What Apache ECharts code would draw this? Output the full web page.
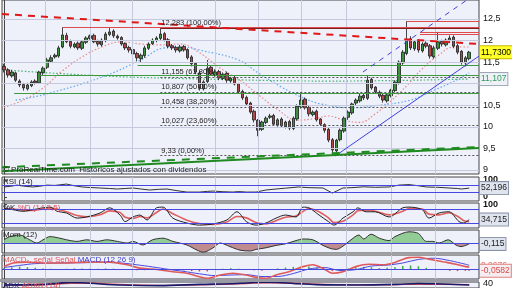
<!DOCTYPE html>
<html><head><meta charset="utf-8">
<script src="https://cdn.jsdelivr.net/npm/echarts@6/dist/echarts.min.js"></script>
<style>html,body{margin:0;padding:0;background:#fff}#c{width:512px;height:288px}</style>
</head><body><div id="c"></div>
<script>
// ---- price candles (one per session) ----
const open = [11.40,11.32,11.18,11.25,11.06,10.98,10.88,10.95,11.06,11.02,
11.25,11.38,11.52,11.62,11.64,11.85,12.12,11.98,11.85,11.94,
11.82,11.96,12.05,12.12,11.98,11.90,12.00,12.14,12.22,12.10,
12.07,11.93,11.84,11.79,11.70,11.58,11.65,11.82,11.93,12.00,
12.05,12.16,12.02,11.88,11.84,11.76,11.86,11.79,11.62,11.47,
11.25,10.88,11.05,11.38,11.20,11.28,11.12,11.24,11.06,11.14,
11.00,10.82,10.68,10.55,10.36,10.15,9.94,10.10,10.22,10.26,
10.04,10.18,10.00,10.12,9.96,10.18,10.46,10.64,10.45,10.28,
10.36,10.18,10.05,9.94,9.70,9.44,9.70,9.90,10.22,10.32,
10.55,10.60,10.73,10.66,11.10,10.92,10.80,10.73,10.60,10.72,
10.84,11.02,11.48,11.70,12.04,11.81,11.98,11.76,11.94,11.88,
11.62,11.82,11.98,11.90,12.00,12.08,11.88,11.75,11.48,11.58];
const close = [11.32,11.20,11.27,11.08,10.97,10.90,10.97,11.04,11.02,11.27,
11.36,11.55,11.60,11.66,11.83,12.13,11.97,11.87,11.92,11.83,
11.97,12.06,12.11,11.97,11.92,12.01,12.15,12.20,12.11,12.06,
11.92,11.83,11.78,11.69,11.60,11.66,11.83,11.92,12.01,12.06,
12.15,12.01,11.87,11.83,11.78,11.85,11.78,11.60,11.46,11.27,
10.90,11.04,11.36,11.22,11.27,11.13,11.22,11.08,11.13,10.99,
10.81,10.67,10.53,10.34,10.16,9.92,10.11,10.20,10.25,10.06,
10.16,10.02,10.11,9.97,10.20,10.48,10.62,10.44,10.30,10.34,
10.16,10.06,9.92,9.69,9.46,9.69,9.92,10.20,10.34,10.53,
10.62,10.71,10.67,11.08,10.90,10.81,10.71,10.62,10.74,10.85,
11.04,11.50,11.73,12.01,11.83,11.97,11.78,11.92,11.87,11.64,
11.83,11.97,11.92,12.01,12.06,11.87,11.73,11.50,11.60,11.73];
const high = [11.46,11.36,11.32,11.28,11.10,11.02,11.02,11.08,11.10,11.30,
11.40,11.60,11.66,11.70,11.88,12.31,12.18,12.02,11.96,11.98,
12.00,12.10,12.14,12.16,12.02,12.05,12.20,12.29,12.26,12.14,
12.10,11.96,11.88,11.82,11.74,11.70,11.88,11.96,12.05,12.10,
12.283,12.20,12.06,11.92,11.88,11.90,11.90,11.82,11.66,11.50,
11.30,11.08,11.55,11.42,11.32,11.32,11.26,11.28,11.16,11.18,
11.02,10.86,10.72,10.58,10.40,10.18,10.14,10.24,10.30,10.30,
10.20,10.22,10.14,10.16,10.24,10.52,10.80,10.68,10.48,10.38,
10.40,10.20,10.08,9.98,9.74,9.72,9.96,10.24,10.38,10.56,
10.66,10.76,10.78,11.20,11.14,10.94,10.84,10.76,10.78,10.88,
11.08,11.54,11.78,12.45,12.10,12.00,12.02,11.96,11.98,11.92,
11.88,12.20,12.02,12.05,12.12,12.12,11.92,11.78,11.64,11.76];
const low = [11.26,11.14,11.14,11.04,10.92,10.84,10.84,10.92,10.98,11.00,
11.20,11.34,11.48,11.58,11.60,11.82,11.94,11.82,11.82,11.78,
11.78,11.92,12.02,11.94,11.86,11.86,11.96,12.10,12.06,12.02,
11.88,11.78,11.72,11.64,11.52,11.50,11.60,11.78,11.90,11.96,
12.00,11.98,11.82,11.78,11.72,11.72,11.74,11.56,11.40,11.22,
10.84,10.84,11.00,11.18,11.16,11.08,11.08,11.02,11.02,10.96,
10.76,10.62,10.48,10.30,10.10,9.78,9.90,10.06,10.18,10.02,
10.00,9.98,9.96,9.92,9.92,10.14,10.42,10.40,10.24,10.24,
10.12,10.02,9.86,9.64,9.33,9.40,9.66,9.86,10.16,10.28,
10.50,10.56,10.62,10.62,10.86,10.76,10.66,10.56,10.56,10.68,
10.80,10.98,11.44,11.66,11.78,11.76,11.72,11.72,11.82,11.58,
11.58,11.78,11.86,11.86,11.96,11.82,11.68,11.44,11.40,11.54];

// ---- moving averages [session index, price] ----
const maShort = [[0,10.45],[5,10.62],[10,10.9],[15,11.3],[20,11.62],[25,11.85],[30,11.97],[35,11.92],[40,11.9],[45,11.92],[50,11.72],[55,11.38],[60,11.1],[65,10.75],[70,10.4],[75,10.15],[80,10.2],[83,10.25],[87,10.15],[91,10.1],[95,10.3],[99,10.6],[103,10.95],[107,11.35],[111,11.65],[115,11.85],[119,11.85]];
const maMid = [[3,10.62],[10,10.74],[25,11.15],[35,11.55],[41,11.83],[46,11.85],[50,11.78],[60,11.55],[65,11.25],[71,10.92],[76,10.69],[81,10.53],[89,10.44],[96,10.5],[104,10.62],[110,10.85],[115,11.05],[119,11.25]];
const maLong = [[0,11.32],[25,11.18],[50,11.11],[84,11.06],[119,11.107]];

// ---- Fibonacci levels and labels ----
const fibLevels = [12.283, 11.155, 10.807, 10.458, 10.027, 9.33];
const fibLabels = ['12,283 (100,00%)','11,155 (61,80%)','10,807 (50,00%)','10,458 (38,20%)','10,027 (23,60%)','9,33 (0,00%)'];
const fibStart = 40;
// horizontal support/resistance [startIndex, price]
const redLevels = [[15,12.30],[103,12.45],[106.4,12.20],[106.4,12.15]];
const greenLevels = [[34.2,11.43],[9.2,11.19],[2.6,10.78]];
// trend lines [[i0,p0],[i1,p1]]
const redTrend = [[-0.5,12.616],[121.5,11.92]];
const blueTrend = [[84.7,9.32],[121.5,11.64]];
const blueChannel = [[91.8,11.27],[118.4,12.94]];
const greenTrend = [[-0.5,8.97],[121.5,9.51]];
const greenTrendDash = [[-0.5,9.06],[121.5,9.53]];

// ---- indicators [session index, value] ----
const rsi = [[0,59],[2,64],[3.3,70],[5,64],[7.4,59],[9,63],[11,70],[13,68],[16,76],[18,66],[20,59],[22,56],[24.5,53],[27,50],[29,47],[31,50],[33,53],[35,47],[37.3,41],[39.5,45],[41.7,47],[44,38],[46.8,29],[50,29],[52,33],[53.5,35],[56,31],[58.6,29],[60,32],[62,29],[64.5,29],[67,41],[69.6,47],[72,52],[75.4,59],[78,55],[81.6,53],[84,23],[86.7,53],[89,55],[92,60],[95,57],[98.5,59],[101,70],[103.6,73],[106,66],[108,59],[111,57],[113.8,53],[116,50],[117,47],[119,52.196]];
const stochK = [[0,83],[2.3,77],[4.9,70],[7.4,77],[10,85],[11.8,88],[13.6,70],[16,63],[18.7,41],[21.2,46],[24.6,63],[27,85],[29.7,54],[31,26],[33,46],[34.8,54],[36.6,33],[39,85],[40.7,88],[43.2,41],[46.8,20],[50,11],[53.5,16],[57,33],[59.6,68],[62,26],[64.5,11],[67,20],[69.6,41],[72,54],[74.7,46],[76.5,88],[78,85],[80.6,54],[83,26],[84.4,11],[86.7,41],[89.3,68],[90.5,85],[92.6,68],[95,68],[98.5,46],[102,85],[103.6,88],[107,77],[108.7,41],[111.3,63],[113.8,68],[116.4,26],[117.6,20],[119,34.715]];
const stochD = [[0,80],[2.3,80],[4.9,75],[7.4,74],[10,80],[11.8,84],[13.6,80],[16,68],[18.7,52],[21.2,47],[24.6,55],[27,72],[29.7,65],[31,45],[33,40],[34.8,48],[36.6,42],[39,65],[40.7,80],[43.2,60],[46.8,32],[50,18],[53.5,14],[57,24],[59.6,48],[62,42],[64.5,22],[67,16],[69.6,30],[72,45],[74.7,50],[76.5,70],[78,82],[80.6,68],[83,42],[84.4,22],[86.7,28],[89.3,55],[90.5,72],[92.6,75],[95,70],[98.5,55],[102,70],[103.6,82],[107,80],[108.7,58],[111.3,55],[113.8,64],[116.4,45],[117.6,30],[119,26]];
const mom = [[0,0.4],[1.5,0.8],[4,1.0],[6.6,0.4],[8.4,0],[10,0.4],[11.8,0.8],[14.3,0.6],[16,0.4],[18.7,0.2],[21.2,0.4],[23.8,0.2],[26.3,0.4],[29,0.2],[31.5,0],[33,0.2],[35.5,-0.25],[38,0.4],[40.7,0.6],[43.2,0.2],[46.8,-0.25],[49.4,-0.9],[51,-1.15],[53.5,-0.6],[55.3,0],[57.8,-0.45],[60.4,-0.9],[63,-1.0],[64.5,-0.8],[67,-0.6],[69.6,-0.3],[72,-0.1],[74.7,0.3],[76.5,0.5],[79,0.4],[81.6,-0.3],[83.6,-0.7],[85,-0.8],[86.7,-0.4],[88.5,0.3],[90.8,1.0],[92,0.5],[93.9,1.1],[96,0.6],[98.5,0.3],[100,0.8],[103.6,1.4],[106,1.2],[108,0.2],[109.7,0.2],[111.3,0],[113.6,0.4],[115.6,-0.25],[116.9,-0.45],[119,-0.115]];
const macd = [[0,0.08],[2.3,0.2],[5.9,0.23],[10,0.2],[16,0.2],[21.2,0.23],[27,0.23],[31.5,0.14],[34.8,0.03],[38,0],[43.2,-0.09],[46.8,-0.14],[50,-0.26],[52,-0.31],[55.3,-0.2],[58.6,-0.14],[62,-0.2],[64.5,-0.28],[67,-0.31],[69.6,-0.2],[72.9,-0.09],[76.5,0.08],[79,0.14],[81.6,0.02],[84,-0.14],[86.7,-0.09],[90,0.08],[93.3,0.16],[97,0.14],[100,0.22],[103.6,0.38],[106,0.39],[108.7,0.33],[112.3,0.24],[115.6,0.16],[118.2,0.08],[119,0.0676]];
const signal = [[0,0.05],[4,0.12],[8,0.18],[14,0.2],[20,0.21],[26,0.22],[30,0.2],[34,0.14],[38,0.07],[42,-0.01],[46,-0.08],[50,-0.16],[54,-0.22],[58,-0.2],[62,-0.19],[66,-0.25],[70,-0.25],[74,-0.15],[78,0.0],[82,0.05],[86,-0.05],[90,-0.02],[94,0.1],[98,0.13],[102,0.2],[106,0.32],[110,0.36],[114,0.28],[118,0.16],[119,0.126]];
const hist = [[0,0.03],[2,0.06],[4,0.08],[6,0.06],[8,0.04],[10,0.02],[12,0.01],[16,0.01],[18,0.02],[20,0.02],[22,0.02],[24,0.01],[26,0.02],[28,0.01],[30,-0.01],[32,-0.03],[34,-0.04],[36,-0.04],[38,-0.03],[40,-0.03],[42,-0.03],[44,-0.04],[46,-0.05],[48,-0.07],[50,-0.08],[52,-0.08],[54,-0.03],[56,0.01],[58,0.03],[60,0.01],[62,-0.02],[64,-0.04],[66,-0.06],[68,-0.03],[70,0.02],[72,0.05],[74,0.07],[76,0.08],[78,0.08],[80,0.04],[82,-0.02],[84,-0.07],[86,-0.05],[88,0.02],[90,0.05],[92,0.07],[94,0.06],[96,0.03],[98,0.04],[100,0.06],[102,0.1],[104,0.12],[106,0.09],[108,0.04],[112,-0.03],[114,-0.06],[116,-0.07],[118,-0.06],[119,-0.0582]];
const adx = [[0,25],[10,30],[14,40],[17,47],[20,44],[24,35],[30,25],[40,20],[50,30],[58,35],[62,42],[66,48],[70,46],[74,38],[80,28],[90,25],[100,30],[106,38],[110,35],[119,25]];
const adxr = [[0,22],[10,26],[17,40],[22,42],[28,32],[40,22],[50,26],[62,38],[68,44],[74,40],[82,30],[95,26],[106,32],[119,28]];

// ---- axis ticks ----
const priceTicks = [9,9.5,10,10.5,11,11.5,12,12.5];
const priceLabels = [9,9.5,10,10.5,11.5,12,12.5];
const monthLines = [10.5,22,32.7,54,65,76,87.5,99,110.2];

const FONT = '"Liberation Sans", Arial, sans-serif';
const fmt = (v, d) => (d==null ? String(v) : v.toFixed(d)).replace('.', ',');
const XMIN = -0.5, XMAX = close.length + 1.5;
const yRange = [[8.904,12.941],[-23.5,117.6],[-1.3,105.6],[-1.25,1.625],[-0.333,0.467],[0,50]];
const grids = [
  {left:2, width:477, top:0, height:174},
  {left:2, width:477, top:177, height:24},
  {left:2, width:477, top:203, height:25},
  {left:2, width:477, top:230, height:23},
  {left:2, width:477, top:255, height:24},
  {left:2, width:477, top:282, height:20}
].map(g => Object.assign(g, {show:true, backgroundColor:'#eef0fa', borderColor:'#444', borderWidth:1}));

const xAxes = grids.map((g, i) => ({
  type:'value', gridIndex:i, min:XMIN, max:XMAX,
  axisLine:{show:false}, axisLabel:{show:false}, axisTick:{show:false},
  splitLine:{show:false}
}));

function yAx(gi, ticks, labels, extra) {
  return Object.assign({
    type:'value', gridIndex:gi, position:'right', min:yRange[gi][0], max:yRange[gi][1],
    axisLine:{show:true, lineStyle:{color:'#444'}},
    axisTick:{show:true, length:3, customValues:ticks, lineStyle:{color:'#444'}},
    axisLabel:{show:true, customValues:labels, fontSize:9, color:'#111', margin:4, fontFamily:FONT,
      formatter: v => fmt(v)},
    splitLine:{show:false}
  }, extra || {});
}
const boldLab = vals => ({axisLabel:{customValues:vals, fontSize:9, fontWeight:'bold', color:'#111', margin:4, fontFamily:FONT}});
const yAxes = [
  yAx(0, priceTicks, priceLabels),
  yAx(1, [0,100], [0,100], boldLab([0,100])),
  yAx(2, [100], [100], boldLab([100])),
  yAx(3, [], [], {axisLabel:{show:false}}),
  yAx(4, [], [], {axisLabel:{show:false}}),
  yAx(5, [40], [40], {axisLabel:{customValues:[40], fontSize:9, color:'#111', margin:4, fontFamily:FONT}})
];

function seg(a, b, style, label) {
  const s = {coord:a, lineStyle:style, label: label || {show:false}};
  return [s, {coord:b}];
}
function hline(v, style) { return seg([XMIN, v], [XMAX, v], style); }
function tag(value, text, color, bg, border) {
  return seg([XMIN, value], [XMAX, value], {color:'rgba(0,0,0,0)', width:1, opacity:1},
    {show:true, position:'end', formatter:text, color:color, backgroundColor:bg, opacity:1,
      borderColor:border || 'transparent', borderWidth:border ? 1 : 0, padding:[2,1,1,1], fontSize:8.5, fontFamily:FONT, distance:1});
}
function vlines(gi) {
  return monthLines.map(x => seg([x, yRange[gi][0]], [x, yRange[gi][1]], {color:'#c4c9de', width:1, type:'solid'}));
}
const fibLabelStyle = t => ({show:true, position:'insideStartTop', formatter:t, color:'#222', fontSize:7.5, fontFamily:FONT, distance:1});
const gridLine = {color:'#c4c9de', width:1, type:'solid'};

const mainMarks = vlines(0).concat(priceTicks.map(v => hline(v, gridLine)));
redLevels.forEach(([i, p]) => mainMarks.push(seg([i,p],[XMAX,p],{color:'#e04a4a', width:1, type:'solid'})));
greenLevels.forEach(([i, p]) => mainMarks.push(seg([i,p],[XMAX,p],{color:'#3e9a3e', width:1, type:'solid'})));
fibLevels.forEach((p, k) => mainMarks.push(seg([fibStart,p],[XMAX,p],
  {color: k===0 ? '#7a2020' : '#555', width:1, type: k===0 ? 'solid' : [2,2]}, fibLabelStyle(fibLabels[k]))));
mainMarks.push(seg(redTrend[0], redTrend[1], {color:'#e01818', width:2, type:[7,6]}));
mainMarks.push(seg(blueTrend[0], blueTrend[1], {color:'#4040e0', width:1, type:'solid'}));
mainMarks.push(seg(blueChannel[0], blueChannel[1], {color:'#4040e0', width:1, type:[5,5]}));
mainMarks.push(seg(greenTrend[0], greenTrend[1], {color:'#1f8a1f', width:2, type:'solid'}));
mainMarks.push(seg(greenTrendDash[0], greenTrendDash[1], {color:'#1f8a1f', width:2, type:[8,7]}));
mainMarks.push(tag(close[close.length-1], fmt(close[close.length-1], 4), '#000', '#ffff2a', '#c8b800'));

const lastOf = a => a[a.length-1][1];
const blueLine = {color:'#4848e0', width:1, type:'solid'};
const noSym = ['none','none'];
const ml = data => ({silent:true, symbol:noSym, animation:false, data:data});
const box = (v, t) => tag(v, t, '#222', '#dfe4ee', '#8a94a8');

const series = [
  {type:'candlestick', xAxisIndex:0, yAxisIndex:0, barWidth:3, clip:false,
   data: open.map((o, i) => [i, o, close[i], low[i], high[i]]),
   encode:{x:0, y:[1,2,3,4]},
   itemStyle:{color:'#3f8f3f', color0:'#b04848', borderColor:'#1a1a1a', borderColor0:'#1a1a1a', borderWidth:0.8},
   markLine:ml(mainMarks), z:3},
  {type:'line', xAxisIndex:0, yAxisIndex:0, data:maShort, showSymbol:false, smooth:0.4,
   lineStyle:{color:'#e88a8a', width:1.2, type:[1.5,2]}, z:2},
  {type:'line', xAxisIndex:0, yAxisIndex:0, data:maMid, showSymbol:false, smooth:0.4,
   lineStyle:{color:'#60a8f0', width:1.2, type:[1.5,2]}, z:2},
  {type:'line', xAxisIndex:0, yAxisIndex:0, data:maLong, showSymbol:false, smooth:0.4, clip:false,
   lineStyle:{color:'#40b070', width:1.2, type:[1.5,2]}, z:2,
   markLine:ml([tag(lastOf(maLong), fmt(lastOf(maLong)), '#2e9a5e', '#eef2f6', '#a0a8b8')])},
  // RSI
  {type:'line', xAxisIndex:1, yAxisIndex:1, data:rsi, showSymbol:false, clip:false, lineStyle:{color:'#333', width:1},
   markLine:ml(vlines(1).concat([hline(70, blueLine), hline(30, blueLine), box(lastOf(rsi), fmt(lastOf(rsi)))]))},
  // Stochastic
  {type:'line', xAxisIndex:2, yAxisIndex:2, data:stochD, showSymbol:false, smooth:0.3, lineStyle:{color:'#e06060', width:1.6}},
  {type:'line', xAxisIndex:2, yAxisIndex:2, data:stochK, showSymbol:false, smooth:0.3, clip:false, lineStyle:{color:'#222', width:1},
   markLine:ml(vlines(2).concat([hline(80, blueLine), hline(20, blueLine), box(lastOf(stochK), fmt(lastOf(stochK)))]))},
  // Momentum
  {type:'line', xAxisIndex:3, yAxisIndex:3, data:mom, showSymbol:false, smooth:0.3, clip:false,
   lineStyle:{color:'#333', width:1}, areaStyle:{opacity:0.75},
   markLine:ml(vlines(3).concat([hline(0, blueLine), box(lastOf(mom), fmt(lastOf(mom)))]))},
  // MACD
  {type:'bar', xAxisIndex:4, yAxisIndex:4, data:hist, barWidth:1.5,
   itemStyle:{color: p => p.value[1] >= 0 ? '#3cb03c' : '#e04040'}},
  {type:'line', xAxisIndex:4, yAxisIndex:4, data:signal, showSymbol:false, smooth:0.3, lineStyle:{color:'#4848e0', width:1}},
  {type:'line', xAxisIndex:4, yAxisIndex:4, data:macd, showSymbol:false, smooth:0.3, clip:false, lineStyle:{color:'#e05a5a', width:1.6},
   markLine:ml(vlines(4).concat([hline(0, blueLine),
       tag(lastOf(macd)+0.06, fmt(lastOf(macd)), '#f07070', 'transparent', null),
       tag(lastOf(hist), fmt(lastOf(hist)), '#e04848', '#f4eef0', '#e08080')]))},
  // ADX
  {type:'line', xAxisIndex:5, yAxisIndex:5, data:adxr, showSymbol:false, smooth:0.3, lineStyle:{color:'#e05050', width:1.4}},
  {type:'line', xAxisIndex:5, yAxisIndex:5, data:adx, showSymbol:false, smooth:0.3, lineStyle:{color:'#1a1a6a', width:1.6},
   markLine:ml(vlines(5))}
];

const txt = (left, top, rich, text) => ({type:'text', left:left, top:top, z:50,
  style:{text:text, rich:rich, font:'8px ' + FONT, fill:'#222'}});
const graphic = [
  {type:'rect', left:0, top:279, shape:{width:479, height:3}, style:{fill:'#9a9aa4'}, z:40},
  txt(3, 166, {}, '© ProRealTime.com  Históricos ajustados con dividendos'),
  txt(3, 178, {}, 'RSI (14)'),
  txt(3, 204, {k:{fill:'#222', font:'8px '+FONT}, d:{fill:'#e05050', font:'8px '+FONT}}, '{k|%K }{d|%D (14,3,5)}'),
  txt(3, 231, {}, 'Mom (12)'),
  txt(3, 256, {r:{fill:'#e05a5a', font:'8px '+FONT}, b:{fill:'#4040d0', font:'8px '+FONT}}, '{r|MACD-, señal Señal }{b|MACD (12 26 9)}'),
  txt(3, 282, {a:{fill:'#1a1a6a', font:'8px '+FONT}, r:{fill:'#e05050', font:'8px '+FONT}}, '{a|ADX }{r|ADXR (14)}')
];

const chart = echarts.init(document.getElementById('c'), null, {renderer:'canvas'});
chart.setOption({
  animation:false,
  backgroundColor:'#ffffff',
  textStyle:{fontFamily:FONT},
  grid:grids, xAxis:xAxes, yAxis:yAxes,
  visualMap:[{type:'piecewise', show:false, seriesIndex:7, dimension:1,
    pieces:[{gt:-10, lt:0, color:'#b06a6a'},{gte:0, lt:10, color:'#74c074'}]}],
  series:series,
  graphic:graphic
});
</script>
</body></html>
